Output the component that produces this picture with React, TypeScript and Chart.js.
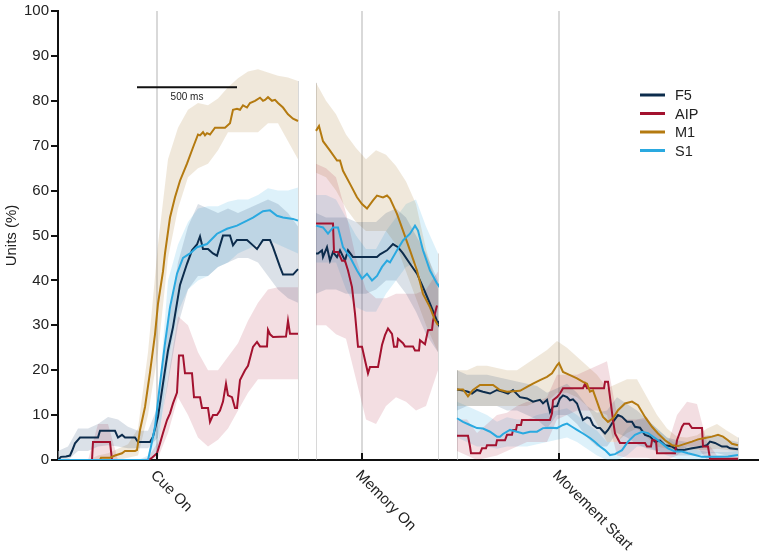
import { useEffect, useRef } from "react"
import { Chart, registerables } from "chart.js"

Chart.register(...registerables)

const FONT = "'Liberation Sans', Arial, sans-serif"

// recording windows (ms on a concatenated time line)
const segments = [
  [0, 1200],
  [1290, 1900],
  [1995, 3400],
]

const eventTimes = [495, 1520, 2505]
const eventLabels = ["Cue On", "Memory On", "Movement Start"]

const seriesNames = ["F5", "AIP", "M1", "S1"]
const seriesColors = ["#0c2c4c", "#a3122f", "#b47a10", "#2aa9e0"]
const bandColors = [
  "rgba(30, 70, 110, 0.16)",
  "rgba(170, 20, 50, 0.14)",
  "rgba(170, 125, 55, 0.18)",
  "rgba(42, 170, 226, 0.16)",
]

// scale bar
const scaleBarStart = 395
const scaleBarMs = 500
const scaleBarLevel = 83

// mean traces
const f5Time = [
  0, 15, 40, 60, 70, 85, 100, 110, 200, 210, 285, 300, 320, 335, 385, 400, 460, 475, 500, 525, 550, 575, 610, 645,
  670, 695, 710, 725, 750, 775, 795, 810, 825, 860, 875, 895, 945, 975, 995, 1025, 1060, 1075, 1110, 1125, 1175, 1200,
  1290, 1300, 1320, 1325, 1345, 1360, 1375, 1395, 1410, 1435, 1450, 1475, 1495, 1535, 1595, 1610, 1645, 1675, 1700,
  1725, 1760, 1795, 1825, 1860, 1895, 1900,
  1995, 2025, 2050, 2070, 2095, 2125, 2160, 2195, 2225, 2250, 2275, 2310, 2345, 2375, 2410, 2425, 2445, 2460, 2475,
  2495, 2510, 2525, 2545, 2560, 2575, 2595, 2610, 2625, 2645, 2660, 2675, 2695, 2710, 2735, 2750, 2775, 2800, 2820,
  2845, 2870, 2885, 2910, 2935, 2960, 2985, 3010, 3035, 3070, 3100, 3135, 3170, 3195, 3220, 3245, 3260, 3285, 3320,
  3345, 3360, 3400,
]
const f5Mean = [
  0, 0.7, 0.8, 1, 2, 3.7, 4.5, 5, 5, 6.5, 6.5, 5, 5.6, 5, 5, 4, 4, 5.2, 9.6, 17, 24.4, 29.6, 39, 43.7,
  46.7, 48, 49.8, 47, 47, 46, 45.5, 47.8, 50, 50, 47.8, 49, 49, 47.8, 47, 49, 49, 47.4, 43, 41.3, 41.3, 42.5,
  46, 46, 46.7, 45.2, 47.4, 44.4, 46.3, 45.2, 46.7, 44.4, 46.7, 45.2, 45.2, 45.2, 45.2, 45.8, 46.7, 48.1, 47.4,
  46, 43.7, 41.5, 38.5, 34.8, 31, 30.5,
  15.7, 15.5, 15.2, 14.8, 15.6, 15.2, 14.8, 15.6, 15.2, 14.8, 15.6, 14, 13.7, 13, 13.4, 12.6, 13.4, 10.7, 11.9,
  12, 13.7, 14.4, 14, 13.3, 13.5, 12.6, 10.7, 8.9, 9.5, 9.3, 7.8, 7.1, 7.1, 5.9, 6.7, 8.5, 10, 9.6,
  8.5, 8.5, 7.4, 7.2, 5.6, 5.2, 4.1, 4.3, 3.3, 3, 2.2, 2.3, 2.6, 2.8, 3, 3.3, 4.1, 3.8, 3,
  3, 2.6, 2.4,
]

const aipTime = [
  0, 170, 175, 260, 270, 450, 470, 495, 510, 525, 545, 560, 575, 595, 605, 625, 635, 670, 680, 710, 720, 750, 760,
  775, 795, 810, 825, 840, 850, 870, 885, 895, 910, 935, 950, 975, 995, 1010, 1045, 1050, 1060, 1075, 1140, 1150,
  1160, 1200,
  1290, 1375, 1380, 1400, 1420, 1435, 1450, 1470, 1485, 1500, 1520, 1535, 1550, 1560, 1600, 1620, 1635, 1650, 1670,
  1680, 1695, 1700, 1725, 1735, 1775, 1785, 1805, 1810, 1835, 1850, 1870, 1875, 1895, 1900,
  1995, 2050, 2060, 2065, 2110, 2120, 2140, 2145, 2190, 2195, 2235, 2245, 2270, 2275, 2290, 2295, 2315, 2320, 2460,
  2470, 2475, 2495, 2510, 2525, 2625, 2635, 2645, 2730, 2735, 2750, 2760, 2775, 2785, 2810, 2935, 2945, 2965, 2970,
  2990, 2995, 3085, 3095, 3120, 3130, 3155, 3170, 3220, 3225, 3250, 3260, 3400,
]
const aipMean = [
  0, 0, 4, 4, 0, 0, 0.5, 1.5, 3.7, 6, 8.9, 10.4, 12.6, 15, 23.3, 23.3, 19.3, 19.3, 14, 14, 11.6, 11.6, 8.5,
  10, 10, 11, 13, 17, 14.4, 14, 11.6, 11.6, 17.8, 20, 21, 25.2, 26.3, 25.3, 25.3, 29, 28, 27.4, 27.5, 31,
  28.1, 28.1,
  52.7, 52.7, 46.3, 46.3, 44.4, 44.4, 42.2, 38.5, 32.6, 25.2, 25.2, 22.2, 19.3, 20.7, 20.7, 25.6, 27.8, 29.3, 28.1,
  25.2, 25.2, 27, 26, 25.3, 25.3, 24.4, 24.4, 26.7, 25.8, 28.9, 29, 31, 34.4, 34.4,
  5.4, 5.4, 3, 1.5, 1.5, 2.6, 2.6, 3.3, 3.3, 4.4, 4.4, 5.6, 5.6, 6.7, 6.7, 7.8, 7.8, 8.9, 8.9,
  10.4, 13.3, 14, 14.8, 16, 16, 17, 16, 16, 17.4, 17.4, 14, 8.9, 5.9, 3.8, 3.8, 3, 3, 4.4,
  4.4, 1.5, 1.5, 4.4, 7.4, 8.1, 8.1, 7.1, 7.1, 3, 3, 0.3, 0.3,
]

const m1Time = [
  0, 210, 215, 260, 285, 320, 335, 385, 395, 410, 435, 460, 485, 500, 525, 535, 560, 585, 610, 645, 675, 700, 710,
  725, 735, 745, 760, 785, 835, 860, 875, 895, 910, 925, 945, 960, 985, 1010, 1025, 1035, 1050, 1070, 1085, 1100,
  1125, 1150, 1175, 1200,
  1290, 1305, 1325, 1360, 1395, 1410, 1425, 1460, 1495, 1520, 1545, 1575, 1595, 1625, 1645, 1660, 1695, 1725, 1760,
  1795, 1825, 1860, 1885, 1900,
  1995, 2025, 2050, 2075, 2110, 2175, 2210, 2245, 2310, 2345, 2375, 2410, 2445, 2470, 2495, 2505, 2525, 2560, 2595,
  2625, 2645, 2660, 2675, 2695, 2710, 2725, 2750, 2775, 2800, 2835, 2870, 2900, 2935, 2970, 3000, 3035, 3070, 3100,
  3135, 3170, 3200, 3235, 3270, 3300, 3325, 3350, 3370, 3400,
]
const m1Mean = [
  0, 0, 0.5, 0.5, 1, 1.5, 2, 2, 2.2, 6.7, 11.8, 19.5, 28, 34.8, 42, 46, 54, 58.5, 62.2, 66, 69.6, 72.5, 72.3,
  73, 72.3, 72.8, 72.5, 74, 74, 75, 78, 78.2, 78, 79, 78.5, 79.5, 80, 80.7, 80, 80.2, 80.8, 80, 80.2, 79.5,
  78.5, 77, 76, 75.5,
  73.3, 74.4, 71, 68.9, 66.7, 66.7, 64.4, 61.5, 58.5, 57, 56, 57.8, 58.9, 58.5, 58.9, 58.2, 54.8, 51.1, 46.7,
  42.2, 37, 34, 31.1, 30,
  15.7, 15.7, 14.2, 15.6, 16.7, 16.7, 15.6, 15.2, 15.4, 16.3, 17, 17.8, 18.5, 19.3, 21.1, 21.6, 19.6, 18.9, 18.2,
  17.4, 17, 15.2, 15.5, 13, 11.1, 9.6, 8.5, 9.3, 11.1, 12.6, 13, 12.2, 9.6, 7.4, 5.9, 4.4, 3.3, 3.1,
  3.6, 4.1, 4.6, 4.9, 5.2, 5.6, 5.2, 4.4, 3.6, 3.3,
]

const s1Time = [
  0, 450, 465, 485, 510, 535, 560, 595, 625, 660, 695, 745, 795, 845, 895, 945, 975, 1025, 1060, 1095, 1125, 1175,
  1200,
  1290, 1325, 1350, 1375, 1400, 1425, 1460, 1495, 1520, 1545, 1570, 1595, 1620, 1645, 1660, 1695, 1725, 1760, 1785,
  1800, 1825, 1860, 1895, 1900,
  1995, 2025, 2060, 2095, 2125, 2160, 2195, 2210, 2225, 2260, 2295, 2325, 2360, 2395, 2425, 2460, 2495, 2525, 2545,
  2570, 2595, 2625, 2660, 2685, 2710, 2735, 2760, 2785, 2820, 2850, 2885, 2920, 2950, 2985, 3020, 3050, 3085, 3120,
  3150, 3185, 3220, 3285, 3350, 3400,
]
const s1Mean = [
  0, 0, 3, 7.4, 17, 26, 34, 41.5, 45, 46, 47.4, 48.1, 50.4, 51.5, 52.2, 53.3, 54, 55.4, 55.6, 54.4, 54, 53.7,
  53.3,
  52.2, 51.8, 50.4, 51.8, 51.8, 47.4, 45.2, 42.2, 40.4, 41.5, 40, 41, 43, 44.4, 44, 46.7, 48.9, 50.4, 52.2,
  51.1, 46.7, 42.2, 39.3, 39,
  9.3, 8.5, 7.8, 7.1, 7, 6.3, 5.2, 5.2, 5.8, 6.7, 6.3, 5.9, 6.3, 6.3, 7.1, 7.2, 7.1, 7.8, 8.1,
  7.4, 6.7, 5.9, 4.9, 4, 3, 2.2, 1.1, 1.3, 2.2, 4.1, 5.6, 6.3, 6, 4.9, 3.7, 2.6, 1.9, 1.9,
  1.5, 1.1, 0.7, 0.7, 0.8, 1.1,
]

// error bands, shared time grid
const bandTime = [
  0, 50, 100, 150, 200, 250, 300, 350, 400, 450, 500, 550, 600, 650, 700, 750, 800, 850, 900, 950, 1000, 1050, 1100,
  1150, 1200,
  1290, 1340, 1390, 1440, 1490, 1540, 1590, 1640, 1690, 1740, 1790, 1840, 1900,
  1995, 2045, 2095, 2145, 2195, 2245, 2295, 2345, 2395, 2445, 2495, 2545, 2595, 2645, 2695, 2745, 2795, 2845, 2895,
  2945, 2995, 3045, 3095, 3145, 3195, 3245, 3295, 3345, 3400,
]
const f5Lo = [
  0, 0, 2, 2, 3, 3.3, 3, 2.6, 2.6, 2.6, 5, 17, 30, 38, 41, 41, 43, 44, 45, 45, 44, 41, 38, 36, 35,
  37, 38, 38, 37, 37, 37, 38, 40, 40, 37, 33, 28, 24,
  11, 12, 12, 12, 12, 11, 11, 10, 9, 7, 10, 10, 8, 5, 3, 3, 6, 5, 3.5, 2.5, 2, 1.5, 1, 1, 1, 1.5, 1.5, 1, 1,
]
const f5Hi = [
  2, 3, 7, 7, 8, 9.6, 9, 7.4, 6.5, 6.5, 12, 30, 44, 52, 57, 56, 55, 56, 55, 56, 57, 58, 57, 55, 52,
  55, 54, 54, 54, 53, 53, 53, 55, 56, 54, 50, 46, 40,
  20, 19, 19, 19, 18.5, 18, 17.5, 17, 16.5, 15, 16, 17, 15, 12, 10.5, 11, 14, 12.5, 11, 9, 7, 5, 4.4, 4, 4.5,
  5.5, 5.5, 4.5, 4,
]
const aipLo = [
  0, 0, 0, 0, 0, 0, 0, 0, 0, 0, 0.5, 6, 14, 10, 5, 3, 4.5, 7, 11, 15, 18, 18, 18, 18, 18,
  30, 30, 28, 27, 18, 9, 8, 12, 14, 13, 11, 12, 20,
  2, 1, 0, 0.5, 1, 2, 3, 4, 4, 4, 9, 10, 11, 11, 11, 10, 1, 0.5, 0.5, 0.5, 0, 0, 1, 3, 3, 0, 0, 0, 0,
]
const aipHi = [
  0, 0, 0, 0, 8, 8, 0, 0, 0, 0.5, 4, 18, 32, 30, 24, 20, 20, 23, 26, 31, 35, 38, 38.5, 38.5, 38.5,
  66, 65, 63, 55, 45, 38, 36, 36, 37, 37, 37, 38, 42,
  9, 9, 6, 8, 10, 10.5, 12, 13, 13, 14, 19, 19, 19, 20, 21, 22, 10, 9, 9, 9.5, 6, 3, 10, 13, 12.5, 4, 1, 1, 1,
]
const m1Lo = [
  0, 0, 0, 0, 0, 0, 0, 0.5, 1, 10, 24, 45, 56, 63, 65, 66, 69, 73, 73, 73, 73, 75, 75, 71, 67,
  64, 63, 60, 56, 53, 51, 51, 51, 48, 42, 36, 30, 24,
  12, 12, 12, 12, 12, 12, 12, 12, 13, 13, 15, 15, 14, 12, 8, 4, 4, 6, 7, 5, 3, 2.5, 2.2, 2.2, 2.2, 2.2, 2.5,
  2.2, 2,
]
const m1Hi = [
  0, 0, 0, 0, 1, 1.5, 2.5, 3.5, 7, 24, 48, 67, 74, 78, 79.5, 79, 80.5, 83, 85, 86.5, 87, 86.3, 85.6, 85.2, 84.4,
  84, 80, 77, 72.5, 69.5, 67, 69, 68, 65.5, 62, 57, 47, 38,
  20, 20, 21, 21, 20.5, 20, 20, 21.5, 23, 24.5, 26.5, 25, 23, 21, 19, 16, 17, 18, 18, 14, 10, 7, 5.2, 5, 5.5,
  7, 8, 6.5, 5,
]
const s1Lo = [
  0, 0, 0, 0, 0, 0, 0, 0, 0, 0, 2, 22, 33, 38, 40, 41, 43, 44, 46, 47, 48, 49, 48, 47, 46,
  44, 44, 44, 38, 34, 33, 33, 37, 40, 43, 44, 36, 31,
  5, 4, 3, 3, 2.5, 3, 3, 3, 3.5, 4, 4.5, 5, 4, 2.5, 1, 0, 0, 1, 3, 3, 2, 1, 0.3, 0, 0, 0, 0, 0, 0,
]
const s1Hi = [
  0, 0, 0, 0, 0, 0, 0, 0, 0, 1, 12, 40, 48, 53, 56, 56.5, 56.5, 57.5, 58, 58, 59, 60.5, 60, 60, 60.7,
  59, 59, 58, 54, 50, 47, 47, 51, 54, 57, 58, 52, 46,
  13, 12, 11, 10, 8.5, 9.5, 9, 9, 10, 10.5, 11, 11.5, 10, 8, 6.5, 4, 4, 7, 9, 9, 7, 5, 3.5, 2.8, 2.2, 1.8, 1.8,
  1.8, 2,
]

const meanTimes = [f5Time, aipTime, m1Time, s1Time]
const means = [f5Mean, aipMean, m1Mean, s1Mean]
const lows = [f5Lo, aipLo, m1Lo, s1Lo]
const highs = [f5Hi, aipHi, m1Hi, s1Hi]

const segIndex = (t: number) => segments.findIndex(([a, b]) => t >= a && t <= b)

// {x,y} points with a null between recording windows so the trace breaks
function toPoints(times: number[], values: number[]) {
  const out: { x: number; y: number | null }[] = []
  times.forEach((t, i) => {
    if (i > 0 && segIndex(t) !== segIndex(times[i - 1])) {
      out.push({ x: (t + times[i - 1]) / 2, y: null })
    }
    out.push({ x: t, y: values[i] })
  })
  return out
}

const decorPlugin = {
  id: "decor",
  beforeDatasetsDraw(chart: any) {
    const { ctx, scales } = chart
    const { x, y } = scales
    // faint edges of the recording windows
    ctx.save()
    ctx.strokeStyle = "rgba(190, 190, 190, 0.6)"
    ctx.lineWidth = 1
    segments.forEach((seg) => {
      seg.forEach((t) => {
        const i = bandTime.indexOf(t)
        const top = Math.max(...highs.map((h) => h[i]))
        const px = Math.round(x.getPixelForValue(t)) + 0.5
        ctx.beginPath()
        ctx.moveTo(px, y.getPixelForValue(0))
        ctx.lineTo(px, y.getPixelForValue(top))
        ctx.stroke()
      })
    })
    ctx.restore()
  },
  afterDraw(chart: any) {
    const { ctx, scales } = chart
    const { x, y } = scales
    const base = y.getPixelForValue(0)
    ctx.save()

    // event ticks and rotated labels
    eventTimes.forEach((t, i) => {
      const px = x.getPixelForValue(t)
      ctx.strokeStyle = "#111"
      ctx.lineWidth = 2
      ctx.beginPath()
      ctx.moveTo(px, base)
      ctx.lineTo(px, base - 7)
      ctx.stroke()

      ctx.save()
      ctx.translate(px - 4, base + 13)
      ctx.rotate(Math.PI / 4)
      ctx.fillStyle = "#222"
      ctx.font = `15px ${FONT}`
      ctx.textAlign = "left"
      ctx.textBaseline = "middle"
      ctx.fillText(eventLabels[i], 0, 0)
      ctx.restore()
    })

    // scale bar
    const sx0 = x.getPixelForValue(scaleBarStart)
    const sx1 = x.getPixelForValue(scaleBarStart + scaleBarMs)
    const sy = y.getPixelForValue(scaleBarLevel)
    ctx.strokeStyle = "#111"
    ctx.lineWidth = 2
    ctx.beginPath()
    ctx.moveTo(sx0, sy)
    ctx.lineTo(sx1, sy)
    ctx.stroke()
    ctx.fillStyle = "#222"
    ctx.font = `10px ${FONT}`
    ctx.textAlign = "center"
    ctx.textBaseline = "middle"
    ctx.fillText(`${scaleBarMs} ms`, (sx0 + sx1) / 2, sy + 10)

    // legend
    seriesNames.forEach((name, i) => {
      const ly = 95 + i * 18.5
      ctx.strokeStyle = seriesColors[i]
      ctx.lineWidth = 3
      ctx.beginPath()
      ctx.moveTo(640, ly)
      ctx.lineTo(665, ly)
      ctx.stroke()
      ctx.fillStyle = "#222"
      ctx.font = `14.5px ${FONT}`
      ctx.textAlign = "left"
      ctx.textBaseline = "middle"
      ctx.fillText(name, 675, ly + 1)
    })

    ctx.restore()
  },
}

export default function App() {
  const chartRef = useRef<HTMLCanvasElement>(null)
  const chartInstance = useRef<Chart | null>(null)

  useEffect(() => {
    if (chartRef.current) {
      if (chartInstance.current) {
        chartInstance.current.destroy()
      }

      const bandSets: any[] = []
      seriesNames.forEach((name, i) => {
        bandSets.push({
          label: name + " lo",
          data: toPoints(bandTime, lows[i]),
          borderWidth: 0,
          pointRadius: 0,
          fill: false,
          order: 10,
        })
        bandSets.push({
          label: name + " hi",
          data: toPoints(bandTime, highs[i]),
          borderWidth: 0,
          pointRadius: 0,
          backgroundColor: bandColors[i],
          fill: "-1",
          order: 10,
        })
      })

      const lineSets = seriesNames.map((name, i) => ({
        label: name,
        data: toPoints(meanTimes[i], means[i]),
        borderColor: seriesColors[i],
        borderWidth: 2,
        pointRadius: 0,
        fill: false,
        tension: 0,
        order: 4 - i,
      }))

      chartInstance.current = new Chart(chartRef.current, {
        type: "line",
        data: { datasets: [...bandSets, ...lineSets] },
        options: {
          animation: false,
          responsive: true,
          maintainAspectRatio: false,
          events: [],
          spanGaps: false,
          layout: { padding: { top: 10, right: 7, bottom: 0, left: 0 } },
          plugins: {
            legend: { display: false },
            tooltip: { enabled: false },
          },
          scales: {
            x: {
              type: "linear",
              min: 0,
              max: 3500,
              afterBuildTicks: (axis: any) => {
                axis.ticks = eventTimes.map((value) => ({ value }))
              },
              afterFit: (axis: any) => {
                axis.height = 96
              },
              ticks: { display: false },
              grid: { color: "#d9d9d9", lineWidth: 2, drawTicks: false },
              border: { color: "#111", width: 2 },
            },
            y: {
              min: 0,
              max: 100,
              afterFit: (axis: any) => {
                axis.width = 58
              },
              ticks: {
                stepSize: 10,
                color: "#222",
                padding: 2,
                font: { size: 15, family: FONT },
              },
              grid: {
                drawOnChartArea: false,
                drawTicks: true,
                tickLength: 7,
                color: "#111",
                lineWidth: 2,
              },
              border: { color: "#111", width: 2 },
              title: {
                display: true,
                text: "Units (%)",
                color: "#222",
                font: { size: 15, family: FONT },
                padding: { top: 3, bottom: 0 },
              },
            },
          },
        },
        plugins: [decorPlugin],
      } as any)
    }

    return () => {
      if (chartInstance.current) {
        chartInstance.current.destroy()
        chartInstance.current = null
      }
    }
  }, [])

  return (
    <div style={{ position: "fixed", left: 0, top: 0, width: 765, height: 556, background: "#fff" }}>
      <canvas ref={chartRef} />
    </div>
  )
}
